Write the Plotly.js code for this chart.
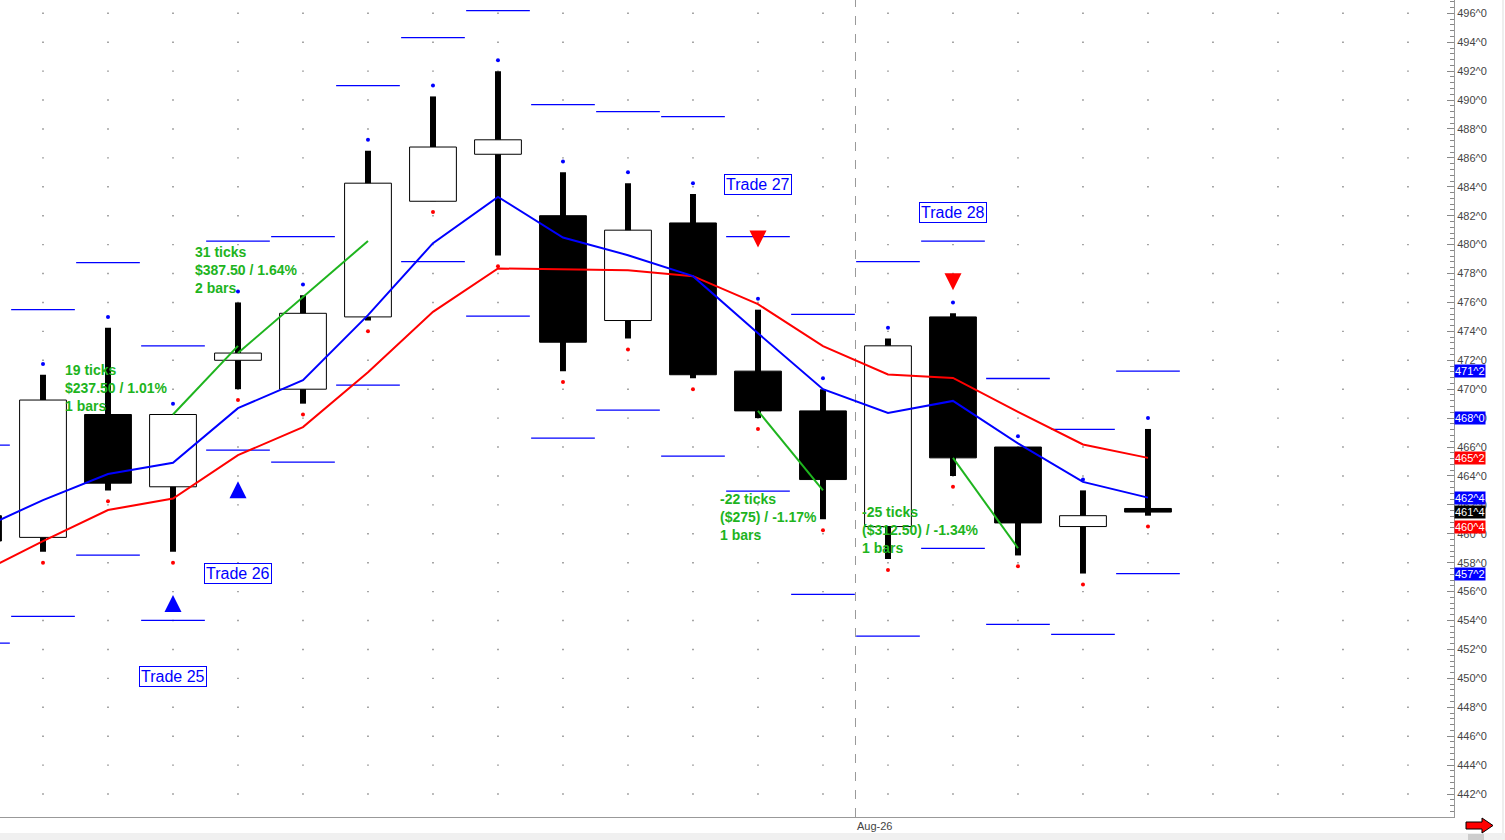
<!DOCTYPE html>
<html>
<head>
<meta charset="utf-8">
<script src="https://cdn.plot.ly/plotly-3.0.1.min.js"></script>
<style>html,body{margin:0;padding:0;background:#fff;overflow:hidden}</style>
</head>
<body>
<div id="chart" style="width:1505px;height:840px"></div>
<script>
// bar slots, -1 is the partly hidden bar at the left edge
bars  = [-1, 0, 1, 2, 3, 4, 5, 6, 7, 8, 9, 10, 11, 12, 13, 14, 15, 16, 17];
open  = [461.25, 459.75, 468.25, 463.25, 472.0, 470.0, 475.0, 483.0, 486.25, 482.0, 474.75, 481.5, 471.25, 468.5, 460.5, 475.0, 466.0, 460.5, 461.75];
high  = [462.5, 471.0, 474.25, 468.25, 476.0, 476.5, 486.5, 490.25, 492.0, 485.0, 484.25, 483.5, 475.5, 470.0, 473.5, 475.25, 466.0, 463.0, 467.25];
low   = [458.5, 458.75, 463.0, 458.75, 470.0, 469.0, 474.75, 483.0, 479.25, 471.25, 473.5, 470.75, 468.0, 461.0, 458.25, 464.0, 458.5, 457.25, 461.25];
close = [459.5, 469.25, 463.5, 468.25, 472.5, 475.25, 484.25, 486.75, 487.25, 473.25, 481.0, 471.0, 468.5, 463.75, 473.0, 465.25, 460.75, 461.25, 461.5];

dotsAbove = [463.25, 471.75, 475.0, 469.0, 476.75, 477.25, 487.25, 491.0, 492.75, 485.75, 485.0, 484.25, 476.25, 470.75, 474.25, 476.0, 466.75, 463.75, 468.0];
dotsBelow = [457.75, 458.0, 462.25, 458.0, 469.25, 468.25, 474.0, 482.25, 478.5, 470.5, 472.75, 470.0, 467.25, 460.25, 457.5, 463.25, 457.75, 456.5, 460.5];

fastMA = [460.27, 462.33, 464.13, 464.91, 468.69, 470.62, 475.12, 480.10, 483.30, 480.49, 479.27, 477.82, 473.87, 470.0, 468.36, 469.19, 466.25, 463.59, 462.5];
slowMA = [457.23, 459.49, 461.64, 462.44, 465.44, 467.38, 471.18, 475.35, 478.35, 478.28, 478.23, 477.82, 475.88, 472.98, 471.02, 470.78, 468.43, 466.18, 465.25];

upperBand = [466.13, 475.51, 478.76, 473.0, 480.24, 480.56, 491.0, 494.32, 496.19, 489.69, 489.2, 488.86, 480.56, 475.17, 478.83, 480.24, 470.74, 467.22, 471.25];
lowerBand = [452.44, 454.29, 458.53, 454.01, 465.79, 464.96, 470.28, 478.83, 475.05, 466.61, 468.55, 465.37, 462.95, 455.81, 452.92, 458.99, 453.73, 453.04, 457.25];

tradeNames  = ['Trade 25', 'Trade 26', 'Trade 27', 'Trade 28'];
tradeSide   = ['long', 'long', 'short', 'short'];
tradeEntry  = [2, 3, 11, 14];
tradeExit   = [3, 5, 12, 15];
entryPrice  = [468.25, 472.5, 468.5, 465.25];
exitPrice   = [473.0, 480.25, 463.0, 459.0];
signalPrice = [455.76, 463.64, 479.80, 476.85];
tradeTagPrice = [450.14, 457.26, 484.16, 482.22];
tradeResult = ['19 ticks<br>$237.50 / 1.01%<br>1 bars',
               '31 ticks<br>$387.50 / 1.64%<br>2 bars',
               '-22 ticks<br>($275) / -1.17%<br>1 bars',
               '-25 ticks<br>($312.50) / -1.34%<br>1 bars'];
resultX = [0.31, 2.31, 10.39, 12.57];
resultY = [470.11, 478.27, 461.16, 460.29];

priceTicks = [442, 444, 446, 448, 450, 452, 454, 456, 458, 460, 462, 464, 466, 468, 470, 472, 474, 476, 478, 480, 482, 484, 486, 488, 490, 492, 494, 496];
gridSlots = [-1, 0, 1, 2, 3, 4, 5, 6, 7, 8, 9, 10, 11, 12, 13, 14, 15, 16, 17, 18, 19, 20, 21];
sessionStart = 13;
sessionLabel = 'Aug-26';

tagValues = [471.25, 468.0, 465.25, 462.5, 461.5, 460.5, 457.25];
tagColors = ['#0000FF', '#0000FF', '#FF0000', '#0000FF', '#000000', '#FF0000', '#0000FF'];

function frac(v) {
  return Math.floor(v) + '^' + Math.round((v - Math.floor(v)) * 8);
}

var FONT = 'Arial, "Liberation Sans", sans-serif';

// band steps
var bx = [], bu = [], bl = [];
bars.forEach(function (b, i) {
  bx.push(b - 0.49, b + 0.49, null);
  bu.push(upperBand[i], upperBand[i], null);
  bl.push(lowerBand[i], lowerBand[i], null);
});
var upper = {x: bx, y: bu, type: 'scatter', mode: 'lines', line: {color: '#0000FF', width: 1.3}, hoverinfo: 'skip'};
var lower = {x: bx, y: bl, type: 'scatter', mode: 'lines', line: {color: '#0000FF', width: 1.3}, hoverinfo: 'skip'};

// candles
var wicks = {
  x: bars, base: low,
  y: high.map(function (h, i) { return h - low[i]; }),
  type: 'bar', width: 0.092,
  marker: {color: '#000000', line: {width: 0}},
  hoverinfo: 'skip'
};
var bodies = {
  x: bars,
  base: open.map(function (o, i) { return Math.min(o, close[i]); }),
  y: open.map(function (o, i) { return Math.abs(close[i] - o); }),
  type: 'bar', width: 0.72,
  marker: {
    color: open.map(function (o, i) { return close[i] > o ? '#FFFFFF' : '#000000'; }),
    line: {color: '#000000', width: 1}
  },
  hoverinfo: 'skip'
};

var slow = {x: bars, y: slowMA, type: 'scatter', mode: 'lines', line: {color: '#FF0000', width: 2}, hoverinfo: 'skip'};
var fast = {x: bars, y: fastMA, type: 'scatter', mode: 'lines', line: {color: '#0000FF', width: 2}, hoverinfo: 'skip'};

// trade result lines
var tx = [], ty = [];
tradeNames.forEach(function (n, i) {
  tx.push(tradeEntry[i], tradeExit[i], null);
  ty.push(entryPrice[i], exitPrice[i], null);
});
var tradeLines = {x: tx, y: ty, type: 'scatter', mode: 'lines', line: {color: '#1EB41E', width: 2}, hoverinfo: 'skip'};

var above = {x: bars, y: dotsAbove, type: 'scatter', mode: 'markers', marker: {size: 4, color: '#0000FF'}, hoverinfo: 'skip'};
var below = {x: bars, y: dotsBelow, type: 'scatter', mode: 'markers', marker: {size: 4, color: '#FF0000'}, hoverinfo: 'skip'};

var signals = {
  x: tradeEntry, y: signalPrice, type: 'scatter', mode: 'markers',
  marker: {
    size: 17,
    symbol: tradeSide.map(function (s) { return s === 'long' ? 'arrow-up' : 'arrow-down'; }),
    color: tradeSide.map(function (s) { return s === 'long' ? '#0000FF' : '#FF0000'; }),
    line: {width: 0}
  },
  hoverinfo: 'skip'
};

var annotations = [];
tradeNames.forEach(function (n, i) {
  annotations.push({
    x: tradeEntry[i], y: tradeTagPrice[i], text: n, showarrow: false,
    font: {family: FONT, size: 16, color: '#0000FF'},
    bgcolor: '#FFFFFF', bordercolor: '#0000FF', borderwidth: 1, borderpad: 1
  });
  annotations.push({
    x: resultX[i], y: resultY[i], text: '<b>' + tradeResult[i] + '</b>', showarrow: false,
    xanchor: 'left', yanchor: 'middle', align: 'left',
    font: {family: FONT, size: 14, color: '#1EB41E'}
  });
});
tagValues.forEach(function (v, i) {
  annotations.push({
    xref: 'paper', x: 1, xanchor: 'left', xshift: 0, y: v, text: frac(v), showarrow: false,
    font: {family: FONT, size: 11, color: '#FFFFFF'}, bgcolor: tagColors[i], borderpad: 0
  });
});
annotations.push({
  x: sessionStart - 0.5, xanchor: 'left', yref: 'paper', y: 0, yanchor: 'top', yshift: -1,
  text: sessionLabel, showarrow: false, font: {family: FONT, size: 11, color: '#444444'}
});

// page furniture in pixel terms
var PW = 1454, PH = 817;
function px(x) { return x / PW; }
function py(y) { return (PH - y) / PH; }
var arrowPath = 'M' + px(1466) + ',' + py(822) + ' L' + px(1482) + ',' + py(822) + ' L' + px(1482) + ',' + py(818) +
  ' L' + px(1493) + ',' + py(825.5) + ' L' + px(1482) + ',' + py(833) + ' L' + px(1482) + ',' + py(829) +
  ' L' + px(1466) + ',' + py(829) + ' Z';

var shapes = [];
// dot grid under the candles: one pixel at every bar slot and price tick
gridSlots.forEach(function (s) {
  priceTicks.forEach(function (p) {
    shapes.push({
      type: 'rect', layer: 'below', xref: 'x', yref: 'y',
      xsizemode: 'pixel', ysizemode: 'pixel', xanchor: s, yanchor: p,
      x0: -0.7, x1: 0.7, y0: -0.7, y1: 0.7,
      fillcolor: '#808080', line: {width: 0}
    });
  });
});
shapes.push(
  {type: 'line', layer: 'below', xref: 'x', yref: 'paper', x0: sessionStart - 0.5, x1: sessionStart - 0.5, y0: 0, y1: 1,
   line: {color: '#999999', width: 1, dash: 'dash'}},
  {type: 'rect', xref: 'paper', yref: 'paper', x0: px(0), x1: px(1505), y0: py(840), y1: py(833),
   fillcolor: '#F0F0F0', line: {width: 0}},
  {type: 'rect', xref: 'paper', yref: 'paper', x0: px(1468), x1: px(1484), y0: py(840), y1: py(834),
   fillcolor: '#CDCDCD', line: {width: 0}},
  {type: 'line', xref: 'paper', yref: 'paper', x0: px(1503), x1: px(1503), y0: py(833), y1: py(0),
   line: {color: '#DDDDDD', width: 1}},
  {type: 'path', xref: 'paper', yref: 'paper', path: arrowPath, fillcolor: '#FF0000', line: {color: '#000000', width: 1}}
);

var data = [upper, lower, wicks, bodies, slow, fast, tradeLines, above, below, signals];

var layout = {
  width: 1505, height: 840,
  margin: {l: 0, r: 51, t: 0, b: 23, pad: 0},
  paper_bgcolor: '#FFFFFF', plot_bgcolor: '#FFFFFF',
  showlegend: false,
  barmode: 'overlay',
  hovermode: false,
  xaxis: {
    range: [-0.6615, 21.708], showgrid: false, zeroline: false, showticklabels: false,
    ticks: '', showline: true, linecolor: '#999999', linewidth: 1, fixedrange: true
  },
  yaxis: {
    side: 'right', range: [440.41, 496.92],
    tickmode: 'array', tickvals: priceTicks, ticktext: priceTicks.map(function (p) { return p + '^0'; }),
    ticks: 'inside', ticklen: 7, tickcolor: '#888888', tickwidth: 1,
    showline: true, linecolor: '#999999', linewidth: 1,
    showgrid: false, zeroline: false, fixedrange: true,
    tickfont: {family: FONT, size: 11, color: '#444444'},
    minor: {tick0: 442, dtick: 0.4, ticks: 'inside', ticklen: 4, tickcolor: '#888888', showgrid: false}
  },
  annotations: annotations,
  shapes: shapes
};

var config = {staticPlot: true, displayModeBar: false};

Plotly.newPlot('chart', data, layout, config);
</script>
</body>
</html>
